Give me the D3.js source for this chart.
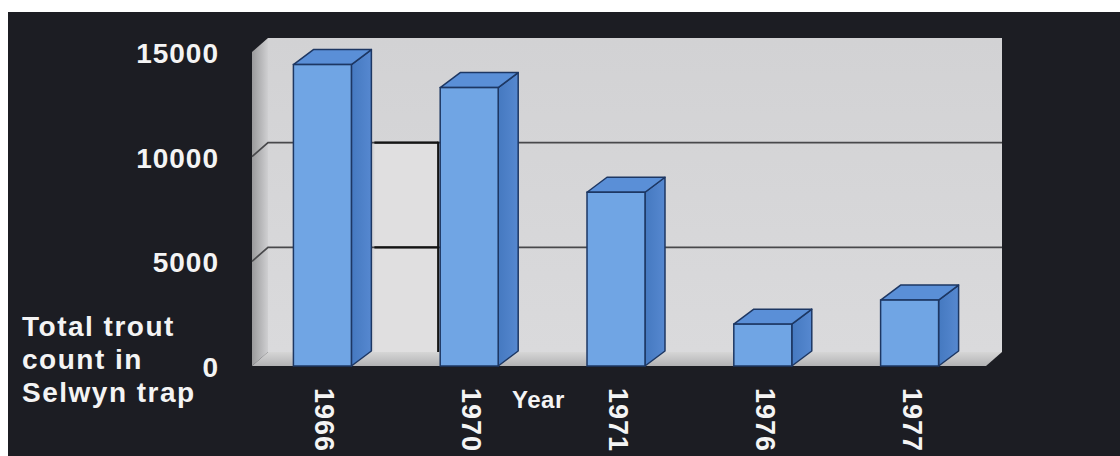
<!DOCTYPE html>
<html>
<head>
<meta charset="utf-8">
<script src="https://cdn.jsdelivr.net/npm/d3@7"></script>
<style>
  html, body { margin: 0; padding: 0; background: #ffffff; }
  svg { display: block; }
  text { font-family: "Liberation Sans", Arial, Helvetica, sans-serif; fill: #f4f4f4; }
</style>
</head>
<body>
<svg id="chart" width="1120" height="456"></svg>
<script>
// Trout counted in the Selwyn trap, by year
const years = ["1966", "1970", "1971", "1976", "1977"];
const troutCounts = [14400, 13300, 8300, 2000, 3150];
const yTicks = [0, 5000, 10000, 15000];
const yTitleLines = ["Total trout", "count in", "Selwyn trap"];
const xTitle = "Year";

const W = 1120, H = 456;
const svg = d3.select("#chart");

// page background: dark card with a white margin along the top and left
svg.append("rect").attr("width", W).attr("height", H).attr("fill", "#ffffff");
svg.append("rect").attr("x", 8).attr("y", 12).attr("width", W - 8).attr("height", H - 12).attr("fill", "#1c1d23");

// front-plane scales
const y = d3.scaleLinear().domain([0, 15000]).range([366, 52]);
const x = d3.scaleBand().domain(years).range([249, 983]).padding(0);
const barW = x.bandwidth() * 0.395;

// 3D offsets: walls and bars recede up and to the right
const wall = { dx: 16, dy: -14 };
const bar = { dx: 20, dy: -15 };

const left = 252, right = 986;
const yTop = y(15000), yBase = y(0);

const defs = svg.append("defs");
const lw = defs.append("linearGradient").attr("id", "leftWall").attr("x1", 0).attr("x2", 1).attr("y1", 0).attr("y2", 0);
lw.append("stop").attr("offset", 0).attr("stop-color", "#9a9a9c");
lw.append("stop").attr("offset", 1).attr("stop-color", "#cfcfd1");
const bw = defs.append("linearGradient").attr("id", "backWall").attr("x1", 0).attr("x2", 0).attr("y1", 0).attr("y2", 1);
bw.append("stop").attr("offset", 0).attr("stop-color", "#d2d2d4");
bw.append("stop").attr("offset", 1).attr("stop-color", "#dadadc");
const fl = defs.append("linearGradient").attr("id", "floor").attr("x1", 0).attr("x2", 0).attr("y1", 0).attr("y2", 1);
fl.append("stop").attr("offset", 0).attr("stop-color", "#d6d6d6");
fl.append("stop").attr("offset", 1).attr("stop-color", "#b2b2b4");
const side = defs.append("linearGradient").attr("id", "barSide").attr("x1", 0).attr("x2", 1).attr("y1", 0).attr("y2", 0);
side.append("stop").attr("offset", 0).attr("stop-color", "#4579c0");
side.append("stop").attr("offset", 1).attr("stop-color", "#5688d0");

const line = d3.line();
const g = svg.append("g");

// back wall
g.append("path")
  .attr("d", line([[left + wall.dx, yTop + wall.dy], [right + wall.dx, yTop + wall.dy],
                   [right + wall.dx, yBase + wall.dy], [left + wall.dx, yBase + wall.dy]]) + "Z")
  .attr("fill", "url(#backWall)");

// left side wall
g.append("path")
  .attr("d", line([[left, yTop], [left + wall.dx, yTop + wall.dy],
                   [left + wall.dx, yBase + wall.dy], [left, yBase]]) + "Z")
  .attr("fill", "url(#leftWall)");

// floor
g.append("path")
  .attr("d", line([[left, yBase], [left + wall.dx, yBase + wall.dy],
                   [right + wall.dx, yBase + wall.dy], [right, yBase]]) + "Z")
  .attr("fill", "url(#floor)");

// pale patch between the first two bars, outlined in black
const patchX0 = x(years[0]) + (x.bandwidth() - barW) / 2 + barW + bar.dx + 3;
const patchX1 = x(years[1]) + (x.bandwidth() - barW) / 2 - 2;
g.append("rect")
  .attr("x", patchX0).attr("y", y(10000) + wall.dy)
  .attr("width", patchX1 - patchX0).attr("height", y(0) - y(10000))
  .attr("fill", "#e0dfe0");

// gridlines on the back and side walls
const grid = yTicks.filter(v => v > 0 && v < 15000);
grid.forEach(v => {
  g.append("path")
    .attr("d", line([[left, y(v)], [left + wall.dx, y(v) + wall.dy], [right + wall.dx, y(v) + wall.dy]]))
    .attr("fill", "none").attr("stroke", "#48484b").attr("stroke-width", 1.7);
  g.append("line")
    .attr("x1", patchX0).attr("x2", patchX1)
    .attr("y1", y(v) + wall.dy).attr("y2", y(v) + wall.dy)
    .attr("stroke", "#141414").attr("stroke-width", 2.2);
});
g.append("line")
  .attr("x1", patchX1).attr("x2", patchX1)
  .attr("y1", y(10000) + wall.dy - 1).attr("y2", y(0) + wall.dy)
  .attr("stroke", "#141414").attr("stroke-width", 2.2);

// bars as boxes: front, side and top faces
const bars = g.selectAll("g.bar").data(years.map((k, i) => ({ year: k, value: troutCounts[i] })))
  .join("g").attr("class", "bar");

const faceStroke = "#1d3763";
bars.each(function (d) {
  const sel = d3.select(this);
  const x0 = x(d.year) + (x.bandwidth() - barW) / 2;
  const x1 = x0 + barW;
  const yt = y(d.value), yb = y(0);
  // side face
  sel.append("path")
    .attr("d", line([[x1, yt], [x1 + bar.dx, yt + bar.dy], [x1 + bar.dx, yb + bar.dy], [x1, yb]]) + "Z")
    .attr("fill", "url(#barSide)").attr("stroke", faceStroke).attr("stroke-width", 1.5).attr("stroke-linejoin", "round");
  // top face
  sel.append("path")
    .attr("d", line([[x0, yt], [x0 + bar.dx, yt + bar.dy], [x1 + bar.dx, yt + bar.dy], [x1, yt]]) + "Z")
    .attr("fill", "#5a8fd7").attr("stroke", faceStroke).attr("stroke-width", 1.5).attr("stroke-linejoin", "round");
  // front face
  sel.append("rect")
    .attr("x", x0).attr("y", yt).attr("width", barW).attr("height", yb - yt)
    .attr("fill", "#70a5e4").attr("stroke", faceStroke).attr("stroke-width", 1.5);
});

// y tick labels
svg.append("g").selectAll("text").data(yTicks).join("text")
  .attr("x", 219).attr("y", d => y(d) + 11)
  .attr("text-anchor", "end")
  .attr("font-size", 28).attr("font-weight", "bold").attr("letter-spacing", 1)
  .text(d => d);

// y title
svg.append("g").selectAll("text").data(yTitleLines).join("text")
  .attr("x", 22).attr("y", (d, i) => 336 + i * 33)
  .attr("font-size", 28).attr("font-weight", "bold").attr("letter-spacing", 1.5)
  .text(d => d);

// year labels, rotated to read downward
svg.append("g").selectAll("text").data(years).join("text")
  .attr("transform", d => `translate(${x(d) + x.bandwidth() / 2 - 7},388) rotate(90)`)
  .attr("font-size", 27).attr("font-weight", "bold").attr("letter-spacing", 1)
  .text(d => d);

// x title
svg.append("text")
  .attr("x", 512).attr("y", 408)
  .attr("font-size", 24).attr("font-weight", "bold").attr("letter-spacing", 0.5)
  .text(xTitle);
</script>
</body>
</html>
